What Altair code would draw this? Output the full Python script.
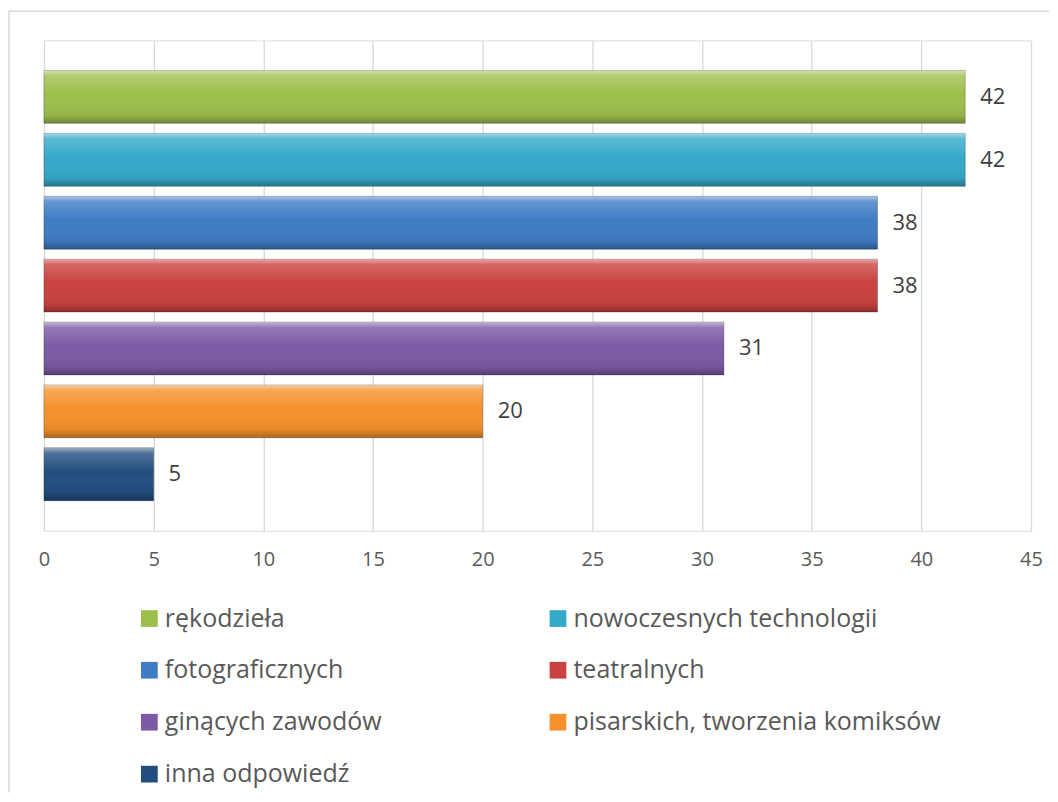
import altair as alt
import pandas as pd

categories = ["rękodzieła", "nowoczesnych technologii", "fotograficznych", "teatralnych",
              "ginących zawodów", "pisarskich, tworzenia komiksów", "inna odpowiedź"]
values = [42, 42, 38, 38, 31, 20, 5]
colors = ["#9cbf4c", "#35a9ca", "#3f7cc4", "#c9423f", "#7c5aa5", "#f5902c", "#224e7f"]
x_ticks = [0, 5, 10, 15, 20, 25, 30, 35, 40, 45]

df = pd.DataFrame({"cat": categories, "val": values})

FONT = "Open Sans"
W, H = 988, 491

y_enc = alt.Y("cat:N", sort=categories, axis=None,
              scale=alt.Scale(paddingInner=0.16, paddingOuter=0.48))
x_enc = alt.X("val:Q",
              scale=alt.Scale(domain=[0, 45], nice=False),
              axis=alt.Axis(values=x_ticks, title=None, domain=False, ticks=False,
                            grid=True, gridColor="#d9d9d9", gridWidth=1.3,
                            labelFlush=False,
                            labelFont=FONT, labelFontSize=20, labelColor="#595959",
                            labelPadding=19))

base = alt.Chart(df)

bars = base.mark_bar(stroke="#00000040", strokeWidth=1).encode(
    x=x_enc, y=y_enc,
    color=alt.Color("cat:N", scale=alt.Scale(domain=categories, range=colors),
                    legend=alt.Legend(title=None, orient="none", legendX=93, legendY=566,
                                      direction="horizontal",
                                      columns=2, columnPadding=163, rowPadding=26,
                                      symbolType="square", symbolSize=280,
                                      symbolStrokeWidth=0, labelOffset=3,
                                      labelFont=FONT, labelFontSize=25,
                                      labelColor="#595959", labelLimit=500, padding=0))
)

bevel = base.mark_bar(
    color=alt.Gradient(
        gradient="linear", x1=0, x2=0, y1=0, y2=1,
        stops=[alt.GradientStop(color="rgba(255,255,255,0.55)", offset=0),
               alt.GradientStop(color="rgba(255,255,255,0.2)", offset=0.1),
               alt.GradientStop(color="rgba(255,255,255,0.0)", offset=0.45),
               alt.GradientStop(color="rgba(0,0,0,0.06)", offset=0.85),
               alt.GradientStop(color="rgba(0,0,0,0.3)", offset=1)])
).encode(x=x_enc, y=y_enc)

labels = base.mark_text(align="left", baseline="middle", dx=15, font=FONT,
                        fontSize=22, color="#404040").encode(
    x=x_enc, y=y_enc, text="val:Q")

frame_top = alt.Chart(pd.DataFrame({"k": [0]})).mark_rule(color="#d9d9d9", strokeWidth=1.5).encode(
    x=alt.value(-35), x2=alt.value(1006), y=alt.value(-29))
frame_left = alt.Chart(pd.DataFrame({"k": [0]})).mark_rule(color="#d9d9d9", strokeWidth=1.5).encode(
    x=alt.value(-35), y=alt.value(-29), y2=alt.value(753))

chart = alt.layer(frame_top, frame_left, bars, bevel, labels).properties(
    width=W, height=H,
    padding={"left": 0, "top": 2, "right": 0, "bottom": 0},
).configure_view(stroke=None).configure(background="white")

chart.save("out.html", embed_options={"renderer": "svg", "actions": False})
